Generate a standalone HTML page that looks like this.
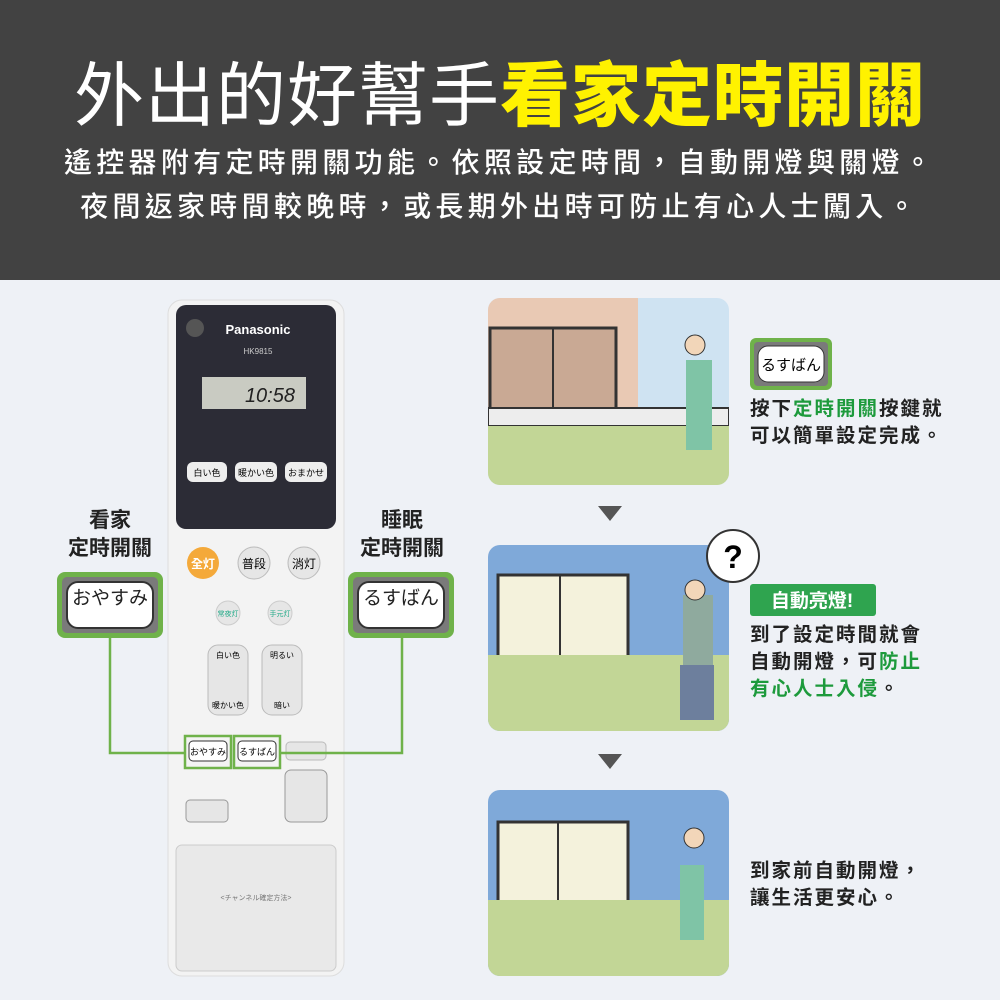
<!DOCTYPE html>
<html><head><meta charset="utf-8"><style>
*{margin:0;padding:0;box-sizing:border-box}
body{width:1000px;height:1000px;overflow:hidden;background:#eef1f6;font-family:"Liberation Sans","Noto Sans CJK TC",sans-serif;position:relative}
.top{position:absolute;left:0;top:0;width:1000px;height:280px;background:#424242;color:#fff;text-align:center}
.t1{position:absolute;top:54px;width:1000px;font-size:70px;letter-spacing:1px;line-height:84px;white-space:nowrap}
.t1 b{color:#fff200;font-weight:900}
.t2{position:absolute;top:141px;width:1000px;font-size:28px;line-height:44px;letter-spacing:4.3px;font-weight:500;white-space:nowrap}
.abs{position:absolute}
.lbl{font-size:21px;font-weight:700;line-height:28px;text-align:center;color:#222}
.bigbtn{position:absolute;width:106px;height:66px;border-radius:8px;background:#6fb24a;padding:5px}
.bigbtn div{width:100%;height:100%;background:#7a7a7a;border-radius:5px;padding:4px}
.bigbtn span{display:block;width:100%;height:100%;background:#fff;border-radius:12px;border:2px solid #333;font-size:19px;line-height:32px;text-align:center;color:#222}
.txt{font-size:19.5px;font-weight:700;line-height:27px;color:#222;letter-spacing:2px;white-space:nowrap}
.g{color:#1d9a3c}
</style></head><body>
<div class="top">
<div class="t1">外出的好幫手<b>看家定時開關</b></div>
<div class="t2">遙控器附有定時開關功能。依照設定時間，自動開燈與關燈。<br>夜間返家時間較晚時，或長期外出時可防止有心人士闖入。</div>
</div>

<svg class="abs" style="left:0;top:0" width="1000" height="1000">
<rect x="168" y="300" width="176" height="676" rx="14" fill="#f3f3f3" stroke="#ddd"/>
<rect x="176" y="305" width="160" height="224" rx="10" fill="#2c2c36"/>
<circle cx="195" cy="328" r="9" fill="#555"/>
<text x="258" y="334" fill="#fff" font-size="13" font-weight="700" text-anchor="middle">Panasonic</text>
<text x="258" y="354" fill="#ccc" font-size="8" text-anchor="middle">HK9815</text>
<rect x="202" y="377" width="104" height="32" fill="#c9cbc2"/>
<text x="295" y="402" font-size="20" font-style="italic" text-anchor="end" fill="#222">10:58</text>
<rect x="187" y="462" width="40" height="20" rx="6" fill="#eee"/><text x="207" y="476" font-size="9" text-anchor="middle">白い色</text>
<rect x="235" y="462" width="42" height="20" rx="6" fill="#eee"/><text x="256" y="476" font-size="9" text-anchor="middle">暖かい色</text>
<rect x="285" y="462" width="42" height="20" rx="6" fill="#eee"/><text x="306" y="476" font-size="9" text-anchor="middle">おまかせ</text>
<circle cx="203" cy="563" r="16" fill="#f4a93a"/><text x="203" y="568" font-size="12" fill="#fff" text-anchor="middle" font-weight="700">全灯</text>
<circle cx="254" cy="563" r="16" fill="#e6e6e6" stroke="#bbb"/><text x="254" y="568" font-size="12" text-anchor="middle">普段</text>
<circle cx="304" cy="563" r="16" fill="#e6e6e6" stroke="#bbb"/><text x="304" y="568" font-size="12" text-anchor="middle">消灯</text>
<circle cx="228" cy="613" r="12" fill="#e6e6e6" stroke="#ccc"/><text x="228" y="616" font-size="7" text-anchor="middle" fill="#2a8">常夜灯</text>
<circle cx="280" cy="613" r="12" fill="#e6e6e6" stroke="#ccc"/><text x="280" y="616" font-size="7" text-anchor="middle" fill="#2a8">手元灯</text>
<rect x="208" y="645" width="40" height="70" rx="10" fill="#e6e6e6" stroke="#bbb"/>
<rect x="262" y="645" width="40" height="70" rx="10" fill="#e6e6e6" stroke="#bbb"/>
<text x="228" y="658" font-size="8" text-anchor="middle">白い色</text><text x="228" y="708" font-size="8" text-anchor="middle">暖かい色</text>
<text x="282" y="658" font-size="8" text-anchor="middle">明るい</text><text x="282" y="708" font-size="8" text-anchor="middle">暗い</text>
<rect x="286" y="742" width="40" height="18" rx="4" fill="#e6e6e6" stroke="#bbb"/>
<rect x="285" y="770" width="42" height="52" rx="6" fill="#e6e6e6" stroke="#999"/>
<rect x="186" y="800" width="42" height="22" rx="4" fill="#e6e6e6" stroke="#999"/>
<rect x="176" y="845" width="160" height="126" rx="6" fill="#e9e9e9" stroke="#ccc"/>
<text x="256" y="900" font-size="7" text-anchor="middle" fill="#777">&lt;チャンネル確定方法&gt;</text>
<polyline points="110,637 110,753 185,753" fill="none" stroke="#6fb24a" stroke-width="2.5"/>
<polyline points="402,637 402,753 280,753" fill="none" stroke="#6fb24a" stroke-width="2.5"/>
<rect x="185" y="736" width="46" height="32" fill="none" stroke="#6fb24a" stroke-width="2.5"/>
<rect x="234" y="736" width="46" height="32" fill="none" stroke="#6fb24a" stroke-width="2.5"/>
<rect x="189" y="741" width="38" height="20" rx="4" fill="#fff" stroke="#333"/><text x="208" y="755" font-size="9" text-anchor="middle">おやすみ</text>
<rect x="238" y="741" width="38" height="20" rx="4" fill="#fff" stroke="#333"/><text x="257" y="755" font-size="9" text-anchor="middle">るすばん</text>

<defs><clipPath id="c1"><rect x="488" y="298" width="241" height="187" rx="12"/></clipPath>
<clipPath id="c2"><rect x="488" y="545" width="241" height="186" rx="12"/></clipPath>
<clipPath id="c3"><rect x="488" y="790" width="241" height="186" rx="12"/></clipPath></defs>
<g clip-path="url(#c1)">
<rect x="488" y="298" width="241" height="187" fill="#cfe3f2"/>
<rect x="488" y="298" width="150" height="120" fill="#e9c9b4"/>
<rect x="490" y="328" width="126" height="90" fill="#c9a994" stroke="#333" stroke-width="3"/>
<line x1="553" y1="328" x2="553" y2="410" stroke="#333" stroke-width="2"/>
<rect x="488" y="408" width="241" height="18" fill="#ededed" stroke="#333" stroke-width="2"/>
<rect x="488" y="426" width="241" height="60" fill="#c2d696"/>
<rect x="686" y="360" width="26" height="90" fill="#7fc4a6"/><circle cx="695" cy="345" r="10" fill="#f2d6b9" stroke="#333"/>
</g>
<g clip-path="url(#c2)">
<rect x="488" y="545" width="241" height="186" fill="#7fa9d9"/>
<rect x="498" y="575" width="130" height="85" fill="#f4f2dc" stroke="#333" stroke-width="3"/>
<line x1="560" y1="575" x2="560" y2="660" stroke="#333" stroke-width="2"/>
<rect x="488" y="655" width="241" height="76" fill="#c2d696"/>
<rect x="683" y="595" width="30" height="70" fill="#8faa9e"/><rect x="680" y="665" width="34" height="55" fill="#6d7f9d"/>
<circle cx="695" cy="590" r="10" fill="#f2d6b9" stroke="#333"/>
</g>
<g clip-path="url(#c3)">
<rect x="488" y="790" width="241" height="186" fill="#7fa9d9"/>
<rect x="498" y="822" width="130" height="85" fill="#f4f2dc" stroke="#333" stroke-width="3"/>
<line x1="558" y1="822" x2="558" y2="905" stroke="#333" stroke-width="2"/>
<rect x="488" y="900" width="241" height="76" fill="#c2d696"/>
<rect x="680" y="865" width="24" height="75" fill="#7fc4a6"/><circle cx="694" cy="838" r="10" fill="#f2d6b9" stroke="#333"/>
</g>
<circle cx="733" cy="556" r="26" fill="#fff" stroke="#333" stroke-width="2"/>
<text x="733" y="568" font-size="32" font-weight="700" text-anchor="middle">?</text>
<polygon points="598,506 622,506 610,521" fill="#555"/>
<polygon points="598,754 622,754 610,769" fill="#555"/>
<rect x="750" y="338" width="82" height="52" rx="6" fill="#6fb24a"/>
<rect x="754" y="342" width="74" height="44" rx="4" fill="#7a7a7a"/>
<rect x="758" y="346" width="66" height="36" rx="10" fill="#fff" stroke="#333"/>
<text x="791" y="370" font-size="15" text-anchor="middle">るすばん</text>
<rect x="750" y="584" width="126" height="32" rx="3" fill="#2fa44f"/>
<text x="812" y="607" font-size="19" font-weight="700" fill="#fff" text-anchor="middle">自動亮燈!</text>
</svg>

<div class="abs lbl" style="left:50px;top:507px;width:120px">看家<br>定時開關</div>
<div class="abs lbl" style="left:342px;top:507px;width:120px">睡眠<br>定時開關</div>
<div class="bigbtn" style="left:57px;top:572px"><div><span>おやすみ</span></div></div>
<div class="bigbtn" style="left:348px;top:572px"><div><span>るすばん</span></div></div>

<div class="abs txt" style="left:750px;top:396px">按下<span class="g">定時開關</span>按鍵就<br>可以簡單設定完成。</div>
<div class="abs txt" style="left:750px;top:622px">到了設定時間就會<br>自動開燈，可<span class="g">防止<br>有心人士入侵</span>。</div>
<div class="abs txt" style="left:750px;top:858px">到家前自動開燈，<br>讓生活更安心。</div>
</body></html>
